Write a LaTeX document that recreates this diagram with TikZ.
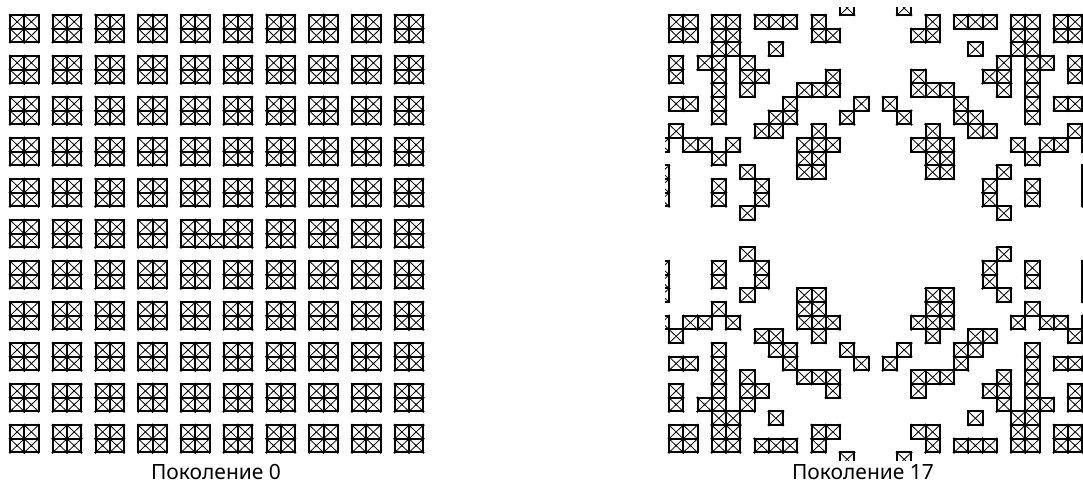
\documentclass[tikz,border=0pt]{standalone}
\usepackage{fontspec}
\setmainfont{Noto Sans}
\newcommand\cw{14.25}
\newcommand\ch{13.67}
\newcommand\mycell[2]{%
  \draw[cellx] (#1,#2) -- ++(\cw,\ch) (#1+\cw,#2) -- ++(-\cw,\ch);
  \draw[cellbox] (#1,#2) rectangle ++(\cw,\ch);
  \fill (#1,#2) circle[radius=1.4pt] (#1+\cw,#2) circle[radius=1.4pt]
        (#1,#2+\ch) circle[radius=1.4pt] (#1+\cw,#2+\ch) circle[radius=1.4pt];}
\begin{document}
\begin{tikzpicture}[x=1pt,y=-1pt,
  cellbox/.style={draw=black,line width=2pt,line join=miter},
  cellx/.style={draw=black,line width=0.8pt},
  caption/.style={font=\fontsize{21}{25}\selectfont,anchor=base,inner sep=0pt}]
\useasboundingbox[fill=white] (0,0) rectangle (1083,488);
% ---- generation 0 ----
\foreach \i in {0,...,9}{\foreach \k in {0,...,10}{\foreach \dx in {0,1}{\foreach \dy in {0,1}{
  \pgfmathsetmacro\xx{10+(3*\i+\dx)*\cw}
  \pgfmathsetmacro\yy{15+(3*\k+\dy)*\ch}
  \mycell{\xx}{\yy}}}}}
\pgfmathsetmacro\xx{10+14*\cw}
\pgfmathsetmacro\yy{15+16*\ch}
\mycell{\xx}{\yy}
% ---- generation 17 ----
\begin{scope}
\clip (665,7) rectangle (1083,460);
\foreach \r/\cl in {-1/{12},0/{0,1,3,4,6,7,8,10},1/{0,1,3,4,10,11},2/{3,4,7},
  3/{0,2,3,5},4/{0,3,5,6,11},5/{3,5,9,10,11},6/{0,1,3,8,13},7/{3,7,8,12},
  8/{0,6,7,10},9/{-1,1,2,4,9,10,11},10/{3,9,10},11/{-1,5,9,10},12/{-1,3,6},
  13/{-1,3,6},14/{5}}{
  \foreach \c in \cl {
    \pgfmathsetmacro\xa{669+\c*\cw}
    \pgfmathsetmacro\xb{669+(28-\c)*\cw}
    \pgfmathsetmacro\ya{15+\r*\ch}
    \pgfmathsetmacro\yb{15+(31-\r)*\ch}
    \mycell{\xa}{\ya}
    \mycell{\xb}{\ya}
    \mycell{\xa}{\yb}
    \mycell{\xb}{\yb}
  }}
\end{scope}
\node[caption] (cap0) at (216,479) {Поколение 0};
\node[caption] (cap17) at (863,479) {Поколение 17};
\end{tikzpicture}
\end{document}
